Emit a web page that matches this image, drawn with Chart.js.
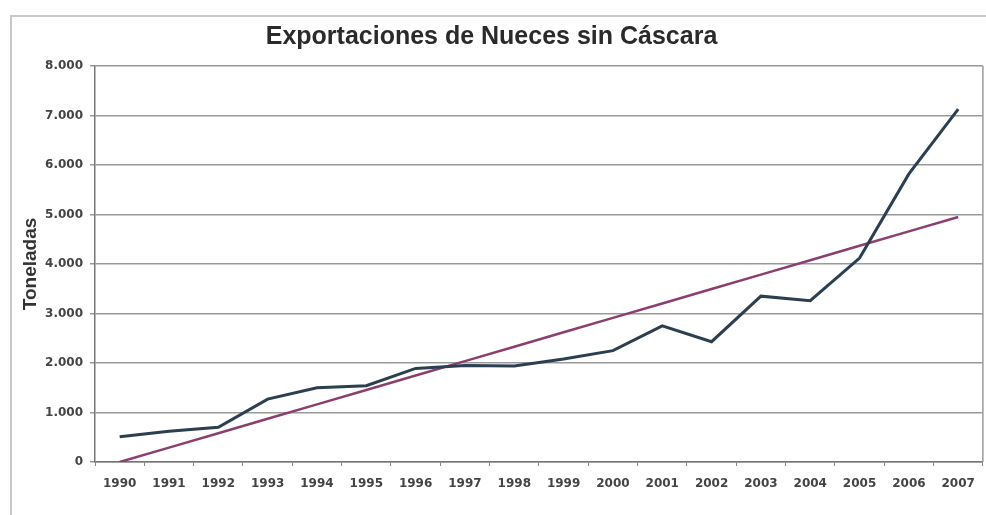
<!DOCTYPE html>
<html>
<head>
<meta charset="utf-8">
<script src="https://cdn.jsdelivr.net/npm/chart.js@4"></script>
<style>
  html, body { margin: 0; padding: 0; background: #fff; overflow: hidden; }
  #frame {
    position: absolute; left: 10px; top: 15px; width: 1000px; height: 520px;
    border: 2px solid #c8c8c8; box-sizing: border-box;
  }
  #wrap { position: absolute; left: 0; top: 0; width: 986px; height: 515px; }
</style>
</head>
<body>
<div id="frame"></div>
<div id="wrap"><canvas id="chart"></canvas></div>
<script>
// Data
const years = ['1990', '1991', '1992', '1993', '1994', '1995', '1996', '1997', '1998',
  '1999', '2000', '2001', '2002', '2003', '2004', '2005', '2006', '2007'];
const exportaciones = [510, 620, 700, 1270, 1500, 1540, 1890, 1950, 1940,
  2080, 2250, 2750, 2430, 3350, 3260, 4120, 5820, 7130];
const tendencia = [0, 291, 582, 874, 1165, 1456, 1747, 2038, 2329,
  2621, 2912, 3203, 3494, 3785, 4076, 4368, 4659, 4950];
const yMax = 8000;
const yStep = 1000;

// thousands separator with a dot
function fmt(v) {
  return String(v).replace(/\B(?=(\d{3})+(?!\d))/g, '.');
}

// border on the right side of the plot area
const plotBorder = {
  id: 'plotBorder',
  afterDraw(chart) {
    const a = chart.chartArea;
    const ctx = chart.ctx;
    ctx.save();
    ctx.strokeStyle = '#9a9a9a';
    ctx.lineWidth = 1.5;
    ctx.beginPath();
    ctx.moveTo(a.right, a.top);
    ctx.lineTo(a.right, a.bottom);
    ctx.stroke();
    ctx.restore();
  }
};

const ctx = document.getElementById('chart').getContext('2d');
new Chart(ctx, {
  type: 'line',
  data: {
    labels: years,
    datasets: [{
      label: 'Exportaciones',
      data: exportaciones,
      borderColor: '#2b3f50',
      borderWidth: 3,
      pointRadius: 0,
      tension: 0
    }, {
      label: 'Tendencia',
      data: tendencia,
      borderColor: '#8c3f6f',
      borderWidth: 2.5,
      pointRadius: 0,
      tension: 0
    }]
  },
  options: {
    responsive: true,
    maintainAspectRatio: false,
    animation: false,
    layout: { padding: { left: 0, right: 3, top: 0, bottom: 0 } },
    plugins: {
      legend: { display: false },
      tooltip: { enabled: false },
      title: {
        display: true,
        text: 'Exportaciones de Nueces sin Cáscara',
        color: '#2a2a2a',
        font: { family: '"Liberation Sans", Arial, sans-serif', size: 25, weight: 'bold' },
        padding: { top: 22, bottom: 14 }
      }
    },
    scales: {
      x: {
        offset: true,
        grid: {
          offset: true,
          drawOnChartArea: false,
          tickLength: 4,
          color: '#888'
        },
        border: { color: '#777', width: 1.5 },
        ticks: {
          color: '#444',
          padding: 11,
          maxRotation: 0,
          autoSkip: false,
          font: { family: '"DejaVu Sans", sans-serif', size: 12, weight: 'bold' }
        },
        afterFit(scale) { scale.height = 53; }
      },
      y: {
        min: 0,
        max: yMax,
        ticks: {
          stepSize: yStep,
          color: '#444',
          padding: 7,
          font: { family: '"DejaVu Sans", sans-serif', size: 12, weight: 'bold' },
          callback: v => fmt(v)
        },
        grid: { color: '#9a9a9a', lineWidth: 1.5, tickLength: 5 },
        border: { color: '#777', width: 1.5 },
        title: {
          display: true,
          text: 'Toneladas',
          color: '#333',
          font: { family: '"Liberation Sans", Arial, sans-serif', size: 19, weight: 'bold' },
          padding: { top: 19, bottom: 0 }
        },
        afterFit(scale) { scale.width = 95; }
      }
    }
  },
  plugins: [plotBorder]
});
</script>
</body>
</html>
